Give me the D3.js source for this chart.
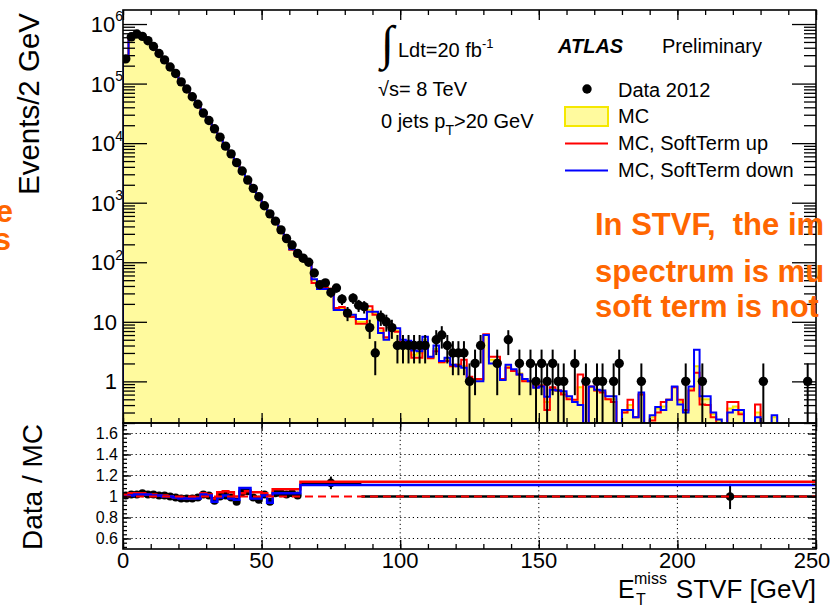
<!DOCTYPE html>
<html>
<head>
<meta charset="utf-8">
<script src="https://cdn.jsdelivr.net/npm/d3@7"></script>
<style>
  body { margin: 0; background: #fff; }
  svg { display: block; }
  text { font-family: "Liberation Sans", Arial, Helvetica, sans-serif; fill: #000; }
</style>
</head>
<body>
<svg id="chart" width="831" height="607"></svg>
<script>
// ---- E_T^miss (STVF) spectrum, 2 GeV bins from 0 to 250 GeV ----
const binWidth = 2;
const xMax = 250;

const dataCounts = [
  260000, 610000, 680000, 620000, 525000, 420000, 320000, 250000, 190000, 148000,
  107000, 81000, 60000, 45000, 32000, 24000, 17400, 12600, 8900, 6600,
  4700, 3400, 2400, 1740, 1260, 890, 650, 490, 350, 250,
  195, 141, 117, 100, 66, 42, 45, 31, 37, 24,
  14, 25, 19, 18, 8, 3, 12, 10, 8, 4,
  4, 4, 4, 4, 4, 0, 5, 6, 4, 3,
  3, 3, 1, 2, 4, 0, 0, 2, 0, 5,
  0, 2, 0, 2, 1, 2, 1, 2, 1, 1,
  0, 2, 0, 1, 0, 1, 1, 0, 1, 2,
  0, 0, 0, 1, 0, 0, 0, 0, 0, 0,
  0, 1, 0, 0, 1, 0, 0, 0, 0, 0,
  0, 0, 0, 0, 0, 1, 0, 0, 0, 0,
  0, 0, 0, 1, 0
];

const mcNominal = [
  257000, 598000, 667000, 602000, 515000, 412000, 317000, 248000, 190000, 149500,
  109000, 82600, 61200, 45500, 31400, 23800, 18100, 12600, 8800, 6650,
  4950, 3270, 2290, 1760, 1300, 870, 680, 475, 340, 245,
  166, 132, 115, 105, 50, 38, 38, 35.5, 16.6, 16.6,
  13.2, 13.2, 10, 10, 15.8, 14.1, 7.1, 5.2, 7.6, 7.1,
  4.8, 4.6, 2.8, 3.0, 5.0, 2.5, 3.5, 2.1, 2.4, 1.9,
  1.9, 1.8, 1.1, 1.05, 1.05, 6.0, 2.3, 2.3, 1.05, 1.8,
  1.5, 1.35, 1.05, 1.0, 0.8, 0.85, 0.45, 0.75, 0.7, 0.65,
  0.55, 0.46, 0.8, 0, 0.8, 0.7, 0.7, 0.5, 0.5, 0,
  0.3, 0.4, 0.25, 0.6, 0, 0.25, 0.35, 0.38, 0.49, 0.8,
  0.45, 0.3, 0.75, 1.8, 0.5, 0.5, 0.28, 0.22, 0, 0.35,
  0.38, 0.3, 0, 0, 0.3, 0, 0, 0.25, 0, 0,
  0, 0, 0, 0, 0
];

const mcSoftTermUp = [
  255000, 596000, 668000, 604000, 516000, 413000, 318000, 249000, 191000, 150000,
  109500, 82700, 61300, 45400, 31300, 23600, 17700, 12200, 8500, 6400,
  4800, 3300, 2300, 1700, 1220, 860, 660, 460, 330, 238,
  162, 126, 110, 100, 45, 36, 37, 36, 17, 17.8,
  12.6, 12, 9.3, 9.3, 18.2, 13.2, 7.8, 5.5, 7.8, 6.8,
  4.6, 4.6, 2.5, 2.5, 4.5, 2.45, 3.2, 2.1, 2.2, 1.8,
  1.9, 2.3, 1.2, 1.1, 1.1, 6.2, 2.6, 2.6, 1.1, 1.7,
  1.5, 1.3, 1.0, 1.0, 0.8, 0.85, 0.33, 0.8, 0.7, 0.6,
  0.5, 0.49, 1.3, 0, 0.82, 0.7, 0.65, 0.5, 0.45, 0,
  0.3, 0.49, 0.25, 0.6, 0, 0.22, 0.3, 0.45, 0.49, 0.8,
  0.49, 0.33, 0.7, 1.4, 0.41, 0.4, 0.25, 0, 0, 0.45,
  0.45, 0.28, 0, 0, 0.41, 0, 0, 0, 0, 0,
  0, 0, 0, 0, 0
];

const mcSoftTermDown = [
  259000, 600000, 666000, 600000, 514000, 411000, 316000, 247000, 189000, 149000,
  108500, 82500, 61000, 45600, 31500, 23900, 18300, 12800, 8900, 6700,
  5000, 3200, 2250, 1780, 1320, 880, 690, 480, 345, 248,
  166, 129, 112, 105, 52, 35.5, 35.5, 34.7, 15.8, 15.8,
  13.2, 13.2, 11.2, 11.2, 14.8, 14.8, 6.5, 5.0, 7.8, 7.8,
  5.0, 4.8, 3.3, 3.2, 5.6, 2.6, 4.0, 2.2, 2.5, 1.9,
  1.8, 1.7, 1.05, 1.0, 1.0, 6.0, 2.0, 1.9, 1.05, 1.9,
  1.6, 1.3, 1.1, 1.0, 0.78, 0.82, 0.55, 0.72, 0.7, 0.68,
  0.56, 0.45, 0.4, 0, 0.82, 0.72, 0.7, 0.56, 0.56, 0,
  0.33, 0.33, 0.25, 0.65, 0, 0.27, 0.37, 0.33, 0.49, 0.82,
  0.41, 0.3, 0.82, 3.4, 0.56, 0.56, 0.3, 0.23, 0, 0.3,
  0.33, 0.33, 0, 0, 0.25, 0, 0, 0.27, 0, 0,
  0, 0, 0, 0, 0
];

// ---- Data / MC ratio: 2 GeV bins up to 64 GeV, then merged bins ----
const ratioData = [
  1.01, 1.02, 1.02, 1.03, 1.02, 1.02, 1.01, 1.01, 1.00, 0.99,
  0.98, 0.98, 0.98, 0.99, 1.02, 1.01, 0.96, 1.00, 1.01, 0.99,
  0.95, 1.04, 1.05, 0.99, 0.97, 1.02, 0.95, 1.03, 1.03, 1.02,
  1.03, 1.01
];
const ratioUp = [
  1.02, 1.03, 1.03, 1.03, 1.02, 1.02, 1.01, 1.01, 1.00, 0.99,
  0.99, 0.98, 0.98, 0.99, 1.03, 1.02, 0.98, 1.04, 1.05, 1.04,
  1.00, 1.03, 1.05, 1.04, 1.04, 1.03, 1.01, 1.07, 1.07, 1.07,
  1.07, 1.07
];
const ratioDown = [
  1.00, 1.01, 1.02, 1.02, 1.02, 1.01, 1.01, 1.00, 1.00, 0.99,
  0.98, 0.98, 0.98, 0.98, 1.02, 1.01, 0.95, 0.99, 1.01, 0.98,
  0.97, 1.08, 1.08, 0.98, 0.98, 1.01, 0.94, 1.03, 1.03, 1.03,
  1.03, 1.03
];
const wideDataEdges = [64, 86, 250];
const wideDataRatio = [1.13, 1.0];
const wideSystEdges = [64, 250];
const wideUpRatio = [1.14];
const wideDownRatio = [1.11];
const ratioPointX = [75, 219];
const ratioPointY = [1.13, 1.0];
const ratioPointErr = [0.06, 0.12];

// ---- axis ticks ----
const xMajorTicks = [0, 50, 100, 150, 200, 250];
const yDecades = [1, 10, 1e2, 1e3, 1e4, 1e5, 1e6];
const yDecadeExp = [0, 1, 2, 3, 4, 5, 6];
const ratioMajorTicks = [0.6, 0.8, 1.0, 1.2, 1.4, 1.6];
const ratioTickLabels = ["0.6", "0.8", "1", "1.2", "1.4", "1.6"];

// ---- layout ----
const L = 123, R = 816, T = 10, MID = 423, B = 549;
const svg = d3.select("#chart");

const x = d3.scaleLinear().domain([0, xMax]).range([L, R]);
const y = d3.scaleLog().domain([0.2, 1.72e6]).range([MID, T]);
const yr = d3.scaleLinear().domain([0.5, 1.7]).range([B, MID]);

const edges = d3.range(0, xMax + binWidth, binWidth);
const ratioEdges = d3.range(0, 64 + binWidth, binWidth);

const defs = svg.append("defs");
defs.append("clipPath").attr("id", "clipTop")
  .append("rect").attr("x", L).attr("y", T).attr("width", R - L).attr("height", MID - T);
defs.append("clipPath").attr("id", "clipRatio")
  .append("rect").attr("x", L).attr("y", MID).attr("width", R - L).attr("height", B - MID);

function stepPath(binEdges, vals, scale, floor, lowest) {
  const p = d3.path();
  p.moveTo(x(binEdges[0]), floor);
  vals.forEach((v, i) => {
    const yy = v > lowest ? scale(v) : floor;
    p.lineTo(x(binEdges[i]), yy);
    p.lineTo(x(binEdges[i + 1]), yy);
  });
  p.lineTo(x(binEdges[vals.length]), floor);
  return p.toString();
}
function linePath(binEdges, vals, scale) {
  const p = d3.path();
  vals.forEach((v, i) => {
    if (i === 0) p.moveTo(x(binEdges[0]), scale(v));
    else p.lineTo(x(binEdges[i]), scale(v));
    p.lineTo(x(binEdges[i + 1]), scale(v));
  });
  return p.toString();
}

// ================= upper panel =================
const upper = svg.append("g").attr("clip-path", "url(#clipTop)");
upper.append("path").attr("d", stepPath(edges, mcNominal, y, MID + 2, 0.05))
  .attr("fill", "#fffa9e").attr("stroke", "#f5e800").attr("stroke-width", 2);
upper.append("path").attr("d", stepPath(edges, mcSoftTermUp, y, MID + 2, 0.05))
  .attr("fill", "none").attr("stroke", "#ff0000").attr("stroke-width", 2);
upper.append("path").attr("d", stepPath(edges, mcSoftTermDown, y, MID + 2, 0.05))
  .attr("fill", "none").attr("stroke", "#0000ff").attr("stroke-width", 2);

const pts = dataCounts.map((n, i) => ({ n, c: (edges[i] + edges[i + 1]) / 2 })).filter(d => d.n > 0);
upper.selectAll("line.err").data(pts).join("line").attr("class", "err")
  .attr("x1", d => x(d.c)).attr("x2", d => x(d.c))
  .attr("y1", d => y(d.n + Math.sqrt(d.n)))
  .attr("y2", d => (d.n - Math.sqrt(d.n)) > 0.2 ? y(d.n - Math.sqrt(d.n)) : MID + 2)
  .attr("stroke", "#000").attr("stroke-width", 2);
upper.selectAll("circle.pt").data(pts).join("circle").attr("class", "pt")
  .attr("cx", d => x(d.c)).attr("cy", d => y(d.n)).attr("r", 4.7).attr("fill", "#000");

// frame + ticks (ticks point into the frame)
function xTicks(g, ypos, dir, majorLen, minorLen) {
  const mk = dir > 0 ? d3.axisBottom : d3.axisTop;
  g.append("g").attr("transform", `translate(0,${ypos})`)
    .call(mk(x).tickValues(d3.range(0, xMax + 1, 10)).tickSize(-minorLen).tickFormat(""))
    .call(a => a.select(".domain").remove());
  g.append("g").attr("transform", `translate(0,${ypos})`)
    .call(mk(x).tickValues(xMajorTicks).tickSize(-majorLen).tickFormat(""))
    .call(a => a.select(".domain").remove());
}
const frameTop = svg.append("g");
xTicks(frameTop, MID, 1, 10, 5);
xTicks(frameTop, T, -1, 10, 5);

const yMinor = [];
for (let e = -1; e <= 6; e++) for (let k = 2; k <= 9; k++) {
  const v = k * Math.pow(10, e);
  if (v >= 0.2 && v <= 1.72e6) yMinor.push(v);
}
[[d3.axisLeft, L], [d3.axisRight, R]].forEach(([mk, xp]) => {
  frameTop.append("g").attr("transform", `translate(${xp},0)`)
    .call(mk(y).tickValues(yMinor).tickSize(-12).tickFormat(""))
    .call(a => a.select(".domain").remove());
  frameTop.append("g").attr("transform", `translate(${xp},0)`)
    .call(mk(y).tickValues(yDecades).tickSize(-24).tickFormat(""))
    .call(a => a.select(".domain").remove());
});

svg.append("rect").attr("x", L).attr("y", T).attr("width", R - L).attr("height", MID - T)
  .attr("fill", "none").attr("stroke", "#000").attr("stroke-width", 1.6);

// y labels of the upper panel
const yLab = svg.append("g").attr("font-size", 22);
yDecades.forEach((v, i) => {
  const e = yDecadeExp[i];
  const t = yLab.append("text").attr("y", y(v)).attr("dy", "0.36em").attr("text-anchor", "end");
  if (e === 0) t.attr("x", 117).text("1");
  else if (e === 1) t.attr("x", 117).text("10");
  else {
    t.attr("x", 123);
    t.append("tspan").text("10");
    t.append("tspan").attr("font-size", 14).attr("dy", "-0.75em").text(String(e));
  }
});

// ================= ratio panel =================
const rg = svg.append("g");
const grid = rg.append("g").attr("stroke", "#000").attr("stroke-width", 1).attr("stroke-dasharray", "1.2,3");
[0.6, 0.8, 1.2, 1.4, 1.6].forEach(v => grid.append("line")
  .attr("x1", L).attr("x2", R).attr("y1", yr(v)).attr("y2", yr(v)));
[50, 100, 150, 200].forEach(v => grid.append("line")
  .attr("x1", x(v)).attr("x2", x(v)).attr("y1", MID).attr("y2", B));

const rc = rg.append("g").attr("clip-path", "url(#clipRatio)");
// merged-bin data ratio (horizontal bin-width bars)
wideDataRatio.forEach((v, i) => rc.append("line")
  .attr("x1", x(wideDataEdges[i])).attr("x2", x(wideDataEdges[i + 1]))
  .attr("y1", yr(v)).attr("y2", yr(v)).attr("stroke", "#000").attr("stroke-width", 2.5));
ratioPointX.forEach((px, i) => {
  rc.append("line").attr("x1", x(px)).attr("x2", x(px))
    .attr("y1", yr(ratioPointY[i] + ratioPointErr[i])).attr("y2", yr(ratioPointY[i] - ratioPointErr[i]))
    .attr("stroke", "#000").attr("stroke-width", 2);
  rc.append("circle").attr("cx", x(px)).attr("cy", yr(ratioPointY[i])).attr("r", 4.3).attr("fill", "#000");
});
// fine-bin data ratio markers
rc.selectAll("circle.rp").data(ratioData).join("circle").attr("class", "rp")
  .attr("cx", (d, i) => x((ratioEdges[i] + ratioEdges[i + 1]) / 2)).attr("cy", d => yr(d))
  .attr("r", 4).attr("fill", "#000");
// systematic variations
const systEdges = ratioEdges.concat(wideSystEdges.slice(1));
rc.append("path").attr("d", linePath(systEdges, ratioUp.concat(wideUpRatio), yr))
  .attr("fill", "none").attr("stroke", "#ff0000").attr("stroke-width", 2.5);
rc.append("path").attr("d", linePath(systEdges, ratioDown.concat(wideDownRatio), yr))
  .attr("fill", "none").attr("stroke", "#0000ff").attr("stroke-width", 2.5);
// unity reference
rc.append("line").attr("x1", L).attr("x2", R).attr("y1", yr(1)).attr("y2", yr(1))
  .attr("stroke", "#ff0000").attr("stroke-width", 2).attr("stroke-dasharray", "8,5");

// ratio frame and ticks
const frameR = svg.append("g");
xTicks(frameR, B, 1, 9, 5);
xTicks(frameR, MID, -1, 8, 4);
const rMinor = d3.range(0.52, 1.7, 0.04).map(v => +v.toFixed(2));
[[d3.axisLeft, L], [d3.axisRight, R]].forEach(([mk, xp]) => {
  frameR.append("g").attr("transform", `translate(${xp},0)`)
    .call(mk(yr).tickValues(rMinor).tickSize(-4).tickFormat(""))
    .call(a => a.select(".domain").remove());
  frameR.append("g").attr("transform", `translate(${xp},0)`)
    .call(mk(yr).tickValues(ratioMajorTicks).tickSize(-8).tickFormat(""))
    .call(a => a.select(".domain").remove());
});
svg.selectAll(".tick line").attr("stroke", "#000").attr("stroke-width", 1.3);
svg.append("rect").attr("x", L).attr("y", MID).attr("width", R - L).attr("height", B - MID)
  .attr("fill", "none").attr("stroke", "#000").attr("stroke-width", 1.6);

svg.append("g").attr("font-size", 16).selectAll("text").data(ratioMajorTicks).join("text")
  .attr("x", 118).attr("y", d => yr(d)).attr("dy", "0.36em").attr("text-anchor", "end")
  .text((d, i) => ratioTickLabels[i]);

svg.append("g").attr("font-size", 22).selectAll("text").data(xMajorTicks).join("text")
  .attr("x", d => Math.min(x(d), 812)).attr("y", 568).attr("text-anchor", "middle").text(d => d);

// ================= titles =================
svg.append("text").attr("transform", "translate(39,13) rotate(-90)")
  .attr("text-anchor", "end").attr("font-size", 29.5).text("Events/2 GeV");
svg.append("text").attr("transform", "translate(42,424) rotate(-90)")
  .attr("text-anchor", "end").attr("font-size", 28).text("Data / MC");

svg.append("text").attr("x", 618).attr("y", 598).attr("font-size", 25).text("E");
svg.append("text").attr("x", 634).attr("y", 584).attr("font-size", 16).text("miss");
svg.append("text").attr("x", 636).attr("y", 605).attr("font-size", 16).text("T");
svg.append("text").attr("x", 816).attr("y", 598).attr("font-size", 26).attr("text-anchor", "end").text("STVF [GeV]");

// ================= annotations =================
const ann = svg.append("g").attr("font-size", 20);
ann.append("text").attr("x", 381).attr("y", 59).attr("font-size", 48)
  .style("font-family", "DejaVu Sans").attr("font-weight", 200).text("∫");
const lum = ann.append("text").attr("x", 398).attr("y", 57);
lum.append("tspan").text("Ldt=20 fb");
lum.append("tspan").attr("font-size", 13).attr("dy", -9).text("-1");
ann.append("text").attr("x", 378).attr("y", 96).text("√s= 8 TeV");
const jets = ann.append("text").attr("x", 381).attr("y", 128);
jets.append("tspan").text("0 jets p");
jets.append("tspan").attr("font-size", 14).attr("dy", 7).text("T");
jets.append("tspan").attr("dy", -7).text(">20 GeV");
ann.append("text").attr("x", 558).attr("y", 53).attr("font-weight", "bold").attr("font-style", "italic").text("ATLAS");
ann.append("text").attr("x", 662).attr("y", 53).text("Preliminary");

// legend
const leg = svg.append("g").attr("font-size", 20);
leg.append("circle").attr("cx", 587).attr("cy", 89).attr("r", 4.7).attr("fill", "#000");
leg.append("text").attr("x", 618).attr("y", 97).text("Data 2012");
leg.append("rect").attr("x", 565).attr("y", 107).attr("width", 43).attr("height", 19)
  .attr("fill", "#fffa9e").attr("stroke", "#f5e800").attr("stroke-width", 2);
leg.append("text").attr("x", 618).attr("y", 123).text("MC");
leg.append("line").attr("x1", 565).attr("x2", 608).attr("y1", 143.5).attr("y2", 143.5)
  .attr("stroke", "#ff0000").attr("stroke-width", 2);
leg.append("text").attr("x", 618).attr("y", 150).text("MC, SoftTerm up");
leg.append("line").attr("x1", 565).attr("x2", 608).attr("y1", 170.5).attr("y2", 170.5)
  .attr("stroke", "#0000ff").attr("stroke-width", 2);
leg.append("text").attr("x", 618).attr("y", 177).text("MC, SoftTerm down");

// highlighted comment (one paragraph on the right, line ends on the left)
const note = svg.append("g").attr("font-size", 31).attr("font-weight", "bold");
const para = note.append("text").style("fill", "#ff6600").style("white-space", "pre");
para.append("tspan").attr("x", 595).attr("y", 235).text("In STVF,  the im");
para.append("tspan").attr("x", 595).attr("y", 282).text("spectrum is mu");
para.append("tspan").attr("x", 595).attr("y", 317).text("soft term is not");
const ends = note.append("text").style("fill", "#ff6600").attr("text-anchor", "end");
ends.append("tspan").attr("x", 13).attr("y", 222).text("e");
ends.append("tspan").attr("x", 11).attr("y", 250).text("s");
</script>
</body>
</html>
